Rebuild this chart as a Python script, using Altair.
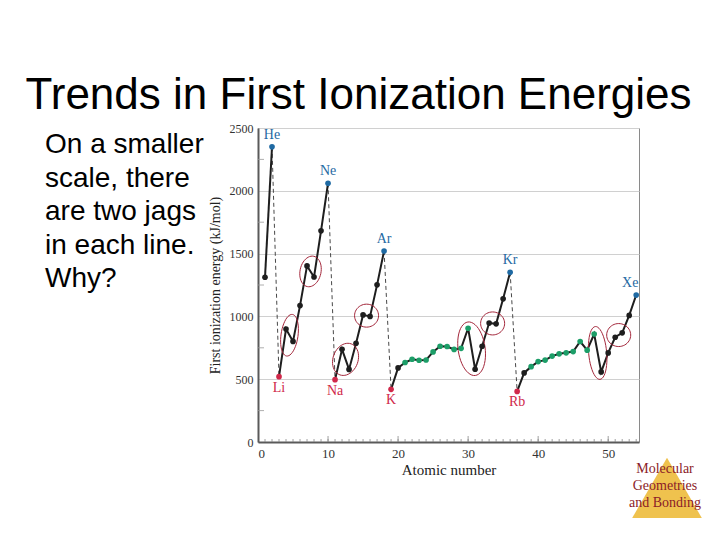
import math
import altair as alt
import pandas as pd

# ---------------- data ----------------
Z = list(range(1, 55))
SYMBOLS = ["H", "He", "Li", "Be", "B", "C", "N", "O", "F", "Ne",
           "Na", "Mg", "Al", "Si", "P", "S", "Cl", "Ar",
           "K", "Ca", "Sc", "Ti", "V", "Cr", "Mn", "Fe", "Co", "Ni", "Cu", "Zn",
           "Ga", "Ge", "As", "Se", "Br", "Kr",
           "Rb", "Sr", "Y", "Zr", "Nb", "Mo", "Tc", "Ru", "Rh", "Pd", "Ag", "Cd",
           "In", "Sn", "Sb", "Te", "I", "Xe"]
IE = [1312, 2350,
      520, 899, 801, 1086, 1402, 1314, 1681, 2060,
      496, 738, 578, 786, 1012, 1000, 1251, 1521,
      419, 590, 633, 659, 651, 653, 717, 762, 760, 737, 746, 906,
      579, 762, 947, 941, 1140, 1351,
      403, 550, 600, 640, 652, 684, 702, 710, 720, 800, 731, 860,
      558, 709, 834, 869, 1008, 1170]
NOBLE = [2, 10, 18, 36, 54]
ALKALI = [3, 11, 19, 37]
TRANSITION = list(range(21, 31)) + list(range(39, 49))
PERIOD_START = [1, 3, 11, 19, 37]
JAG_PAIRS = [(4, 5), (7, 8), (12, 13), (15, 16), (30, 31), (33, 34), (48, 49), (51, 52)]
X_LABELS = [0, 10, 20, 30, 40, 50]
Y_LABELS = [0, 500, 1000, 1500, 2000, 2500]
X_MINOR = list(range(1, 55))
X_MAJOR = [10, 20, 30, 40, 50]
Y_MINOR = [250, 750, 1250, 1750, 2250]

TITLE = "Trends in First Ionization Energies"
SIDE_TEXT = ["On a smaller", "scale, there", "are two jags", "in each line.", "Why?"]
LOGO_TEXT = ["Molecular", "Geometries", "and Bonding"]

# ---------------- styles ----------------
W, H = 381, 314
SERIF = "Liberation Serif"
SANS = "Liberation Sans"
BLUE = "#1f6aa3"
RED = "#d0284a"
GREEN = "#1c9e68"
BLACK = "#1e1e1e"
# ellipse (width px, height px, tilt deg) per jag pair
ELLIPSE_STYLE = [(17, 42, 8), (21, 31, 12), (25, 33, 20), (24, 23, 0),
                 (27, 54, -8), (24, 23, 0), (18, 53, -5), (24, 23, 0)]
UNIT = 30.0  # px per custom-shape unit for size 3600


def category(z):
    if z in NOBLE:
        return "noble"
    if z in ALKALI:
        return "alkali"
    if z in TRANSITION:
        return "transition"
    return "other"


df = pd.DataFrame({"Z": Z, "symbol": SYMBOLS, "ie": IE})
df["cat"] = [category(z) for z in Z]
df["period"] = [sum(1 for s in PERIOD_START if s <= z) for z in Z]

ie_of = dict(zip(Z, IE))
dash_rows = []
for g, n in enumerate(NOBLE[:-1]):
    dash_rows.append({"Z": n, "ie": ie_of[n], "grp": g})
    dash_rows.append({"Z": n + 1, "ie": ie_of[n + 1], "grp": g})
dash_df = pd.DataFrame(dash_rows)


def ellipse_path(w, h, deg):
    a, b = w / 2 / UNIT, h / 2 / UNIT
    th = math.radians(deg)
    pts = []
    for i in range(48):
        t = 2 * math.pi * i / 48
        px, py = a * math.cos(t), b * math.sin(t)
        pts.append((px * math.cos(th) - py * math.sin(th),
                    px * math.sin(th) + py * math.cos(th)))
    return "M " + " L ".join(f"{x:.3f} {y:.3f}" for x, y in pts) + " Z"


pair_labels = [f"{a}-{b}" for a, b in JAG_PAIRS]
ell_df = pd.DataFrame({
    "pair": pair_labels,
    "Z": [(a + b) / 2 for a, b in JAG_PAIRS],
    "ie": [(ie_of[a] + ie_of[b]) / 2 for a, b in JAG_PAIRS],
})
ell_paths = [ellipse_path(*s) for s in ELLIPSE_STYLE]

x_enc = alt.X("Z:Q", scale=alt.Scale(domain=[0, 54.4], nice=False, zero=False),
              axis=alt.Axis(values=X_LABELS, title="Atomic number", grid=False, ticks=False,
                            domainColor="#5a5a5a", domainWidth=2, labelPadding=5,
                            titlePadding=2, labelFontSize=13, titleFontSize=15, format="d"))
y_enc = alt.Y("ie:Q", scale=alt.Scale(domain=[0, 2500], nice=False),
              axis=alt.Axis(values=Y_LABELS, title="First ionization energy (kJ/mol)",
                            grid=True, gridColor="#d0d0d0", ticks=False, format="d",
                            domainColor="#5a5a5a", domainWidth=2, labelPadding=5,
                            titlePadding=7, labelFontSize=12, titleFontSize=14))

xtick_df = pd.DataFrame({"Z": X_MINOR})
xmaj_df = pd.DataFrame({"Z": X_MAJOR})
ytick_df = pd.DataFrame({"ie": Y_MINOR})

xticks = alt.Chart(xtick_df).mark_rule(color="#888", strokeWidth=0.8).encode(
    x=x_enc, y=alt.value(H), y2=alt.value(H - 3))
xmajor = alt.Chart(xmaj_df).mark_rule(color="#888", strokeWidth=0.8).encode(
    x=x_enc, y=alt.value(H), y2=alt.value(H - 6))
yticks = alt.Chart(ytick_df).mark_rule(color="#999", strokeWidth=0.8).encode(
    y=y_enc, x=alt.value(0), x2=alt.value(6))

dashed = alt.Chart(dash_df).mark_line(strokeDash=[4, 3], strokeWidth=0.9, color="#333").encode(
    x=x_enc, y=y_enc, detail="grp:N")
solid = alt.Chart(df).mark_line(color=BLACK, strokeWidth=2).encode(
    x=x_enc, y=y_enc, detail="period:N")

ellipses = alt.Chart(ell_df).mark_point(filled=False, stroke="#a3263a", strokeWidth=1,
                                        opacity=1).encode(
    x=x_enc, y=y_enc,
    shape=alt.Shape("pair:N", scale=alt.Scale(domain=pair_labels, range=ell_paths), legend=None),
    size=alt.value(3600))

points = alt.Chart(df).mark_circle(opacity=1).encode(
    x=x_enc, y=y_enc,
    color=alt.Color("cat:N", scale=alt.Scale(domain=["noble", "alkali", "transition", "other"],
                                             range=[BLUE, RED, GREEN, BLACK]), legend=None),
    size=alt.Size("cat:N", scale=alt.Scale(domain=["noble", "alkali", "transition", "other"],
                                           range=[32, 32, 32, 24]), legend=None))

noble_lbl = alt.Chart(df).transform_filter(
    (alt.datum.cat == "noble") & (alt.datum.Z != 54)).mark_text(
    dy=-12, font=SERIF, fontSize=14, color=BLUE).encode(x=x_enc, y=y_enc, text="symbol:N")
xe_lbl = alt.Chart(df).transform_filter(alt.datum.Z == 54).mark_text(
    dy=-12, dx=-6, font=SERIF, fontSize=14, color=BLUE).encode(x=x_enc, y=y_enc, text="symbol:N")
alkali_lbl = alt.Chart(df).transform_filter(alt.datum.cat == "alkali").mark_text(
    dy=11, font=SERIF, fontSize=14, color=RED).encode(x=x_enc, y=y_enc, text="symbol:N")

one = pd.DataFrame({"k": [0]})
title = alt.Chart(one).mark_text(font=SANS, fontSize=44, align="center", baseline="alphabetic",
                                 color="#000").encode(
    x=alt.value(100.5), y=alt.value(-19), text=alt.value(TITLE))
side = alt.Chart(one).mark_text(font=SANS, fontSize=28, align="left", baseline="alphabetic",
                                lineHeight=33.6, color="#000").encode(
    x=alt.value(-213), y=alt.value(25), text=alt.value(SIDE_TEXT))
logo = alt.Chart(one).mark_point(shape="triangle-up", filled=True, fill="#eebf45",
                                 opacity=0.95, strokeWidth=0).encode(
    x=alt.value(409), y=alt.value(360), size=alt.value(4900))
logo_txt = alt.Chart(one).mark_text(font=SERIF, fontSize=14, align="center",
                                    baseline="alphabetic", lineHeight=17, color="#8b1c28").encode(
    x=alt.value(407), y=alt.value(345), text=alt.value(LOGO_TEXT))

chart = alt.layer(
    xticks, xmajor, yticks, dashed, solid, ellipses, points,
    noble_lbl, xe_lbl, alkali_lbl, title, side, logo, logo_txt
).properties(
    width=W, height=H,
    autosize=alt.AutoSizeParams(type="none"),
    padding={"left": 250, "top": 120, "right": 70, "bottom": 76},
    background="white",
).configure_view(
    stroke="#8a8a8a", strokeWidth=1
).configure_axis(
    labelFont=SERIF, titleFont=SERIF, labelColor="#333", titleColor="#222",
    titleFontWeight="normal"
)

chart.save("out.html", embed_options={"renderer": "svg", "actions": False})
